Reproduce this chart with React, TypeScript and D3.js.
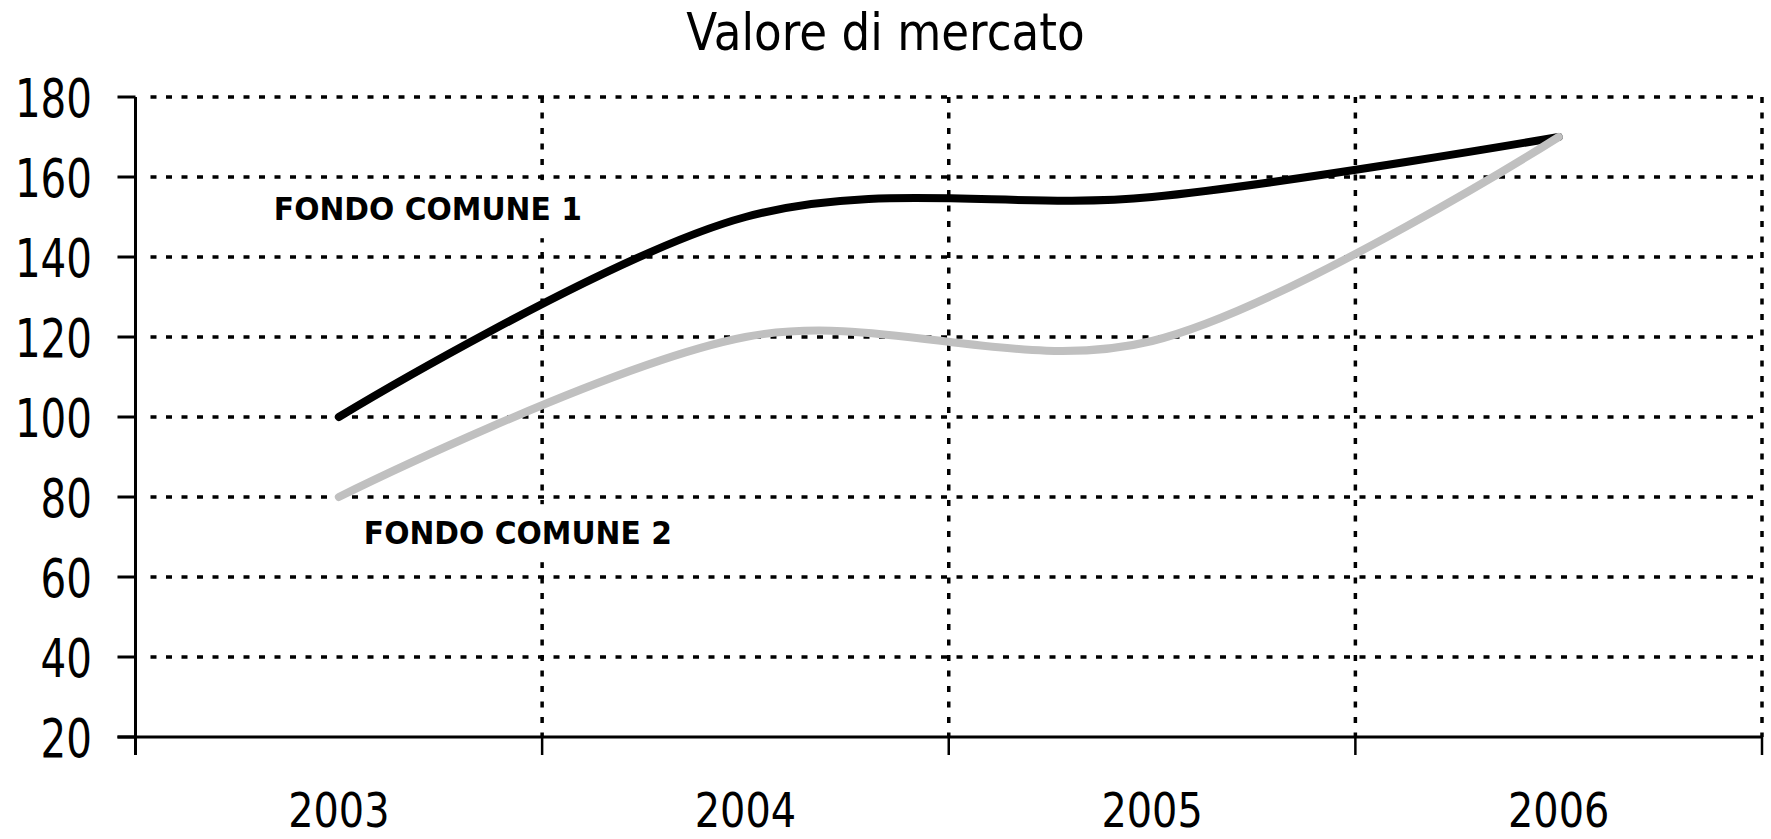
import * as d3 from "d3";

// data
const years = ["2003", "2004", "2005", "2006"];
const fondo1 = [100, 150, 155, 170];
const fondo2 = [80, 120, 119, 170];
const yTicks = [20, 40, 60, 80, 100, 120, 140, 160, 180];
const seriesNames = ["FONDO COMUNE 1", "FONDO COMUNE 2"];
const seriesColors = ["#000000", "#c0c0c0"];
const title = "Valore di mercato";

const W = 1771;
const H = 839;
const left = 135.5;
const right = 1762;
const top = 97;
const bottom = 737;
const FONT = "'DejaVu Sans', Verdana, sans-serif";

function App() {
    const x = d3.scaleBand().domain(years).range([left, right]);
    const bw = x.bandwidth();
    const cx = (yr: string) => (x(yr) as number) + bw / 2;
    const y = d3.scaleLinear().domain([20, 180]).range([bottom, top]);

    // band edges = vertical grid + x ticks
    const edges = years.map((yr) => x(yr) as number).concat([right]);

    const line = d3
        .line<number>()
        .x((d, i) => cx(years[i]))
        .y((d) => y(d))
        .curve(d3.curveCardinal.tension(0));

    // label anchors (in data terms)
    const labels = [
        { text: seriesNames[0], x: cx(years[0]) - 65, y: y(149.2), sx: 0.93 },
        { text: seriesNames[1], x: cx(years[0]) + 25, y: y(68.2), sx: 0.93 },
    ];
    const labelW = 306;

    return (
        <svg
            width={W}
            height={H}
            style={{ position: "absolute", left: 0, top: 0, background: "#fff" }}
            fontFamily={FONT}
        >
            <text
                transform={`translate(${W / 2},50) scale(0.87,1)`}
                textAnchor="middle"
                fontSize={52}
                fill="#000"
            >
                {title}
            </text>

            {/* horizontal grid */}
            {yTicks.slice(1).map((t) => (
                <line
                    key={"h" + t}
                    x1={left + 15}
                    x2={right}
                    y1={y(t)}
                    y2={y(t)}
                    stroke="#000"
                    strokeWidth={3.5}
                    strokeDasharray="6 9.5"
                />
            ))}
            {/* vertical grid */}
            {edges.slice(1).map((e, i) => (
                <line
                    key={"v" + i}
                    x1={e}
                    x2={e}
                    y1={top}
                    y2={bottom}
                    stroke="#000"
                    strokeWidth={3.5}
                    strokeDasharray="6 9.5"
                />
            ))}

            {/* label boxes hide the grid under them */}
            {labels.map((l) => (
                <rect
                    key={"b" + l.text}
                    x={l.x - 8}
                    y={l.y - 40}
                    width={labelW + 16}
                    height={58}
                    fill="#fff"
                />
            ))}

            {/* axes */}
            <line x1={left} x2={left} y1={top} y2={bottom + 18} stroke="#000" strokeWidth={3} />
            <line x1={left - 18} x2={right} y1={bottom} y2={bottom} stroke="#000" strokeWidth={3} />
            {yTicks.map((t) => (
                <g key={"yt" + t}>
                    <line x1={left - 18} x2={left} y1={y(t)} y2={y(t)} stroke="#000" strokeWidth={3} />
                    <text
                        transform={`translate(92,${y(t) + 20}) scale(0.755,1)`}
                        textAnchor="end"
                        fontSize={53.5}
                        fill="#000"
                    >
                        {t}
                    </text>
                </g>
            ))}
            {edges.map((e, i) => (
                <line key={"xt" + i} x1={e} x2={e} y1={bottom} y2={bottom + 18} stroke="#000" strokeWidth={2.5} />
            ))}
            {years.map((yr) => (
                <text
                    key={yr}
                    transform={`translate(${cx(yr)},827) scale(0.83,1)`}
                    textAnchor="middle"
                    fontSize={48}
                    fill="#000"
                >
                    {yr}
                </text>
            ))}

            {/* series */}
            {[fondo1, fondo2].map((s, i) => (
                <path
                    key={"s" + i}
                    d={line(s) || ""}
                    fill="none"
                    stroke={seriesColors[i]}
                    strokeWidth={8}
                    strokeLinecap="round"
                    strokeLinejoin="round"
                />
            ))}

            {labels.map((l) => (
                <text
                    key={l.text}
                    transform={`translate(${l.x},${l.y}) scale(${l.sx},1)`}
                    fontSize={32}
                    fontWeight="bold"
                    fill="#000"
                >
                    {l.text}
                </text>
            ))}
        </svg>
    );
}

export default App;
